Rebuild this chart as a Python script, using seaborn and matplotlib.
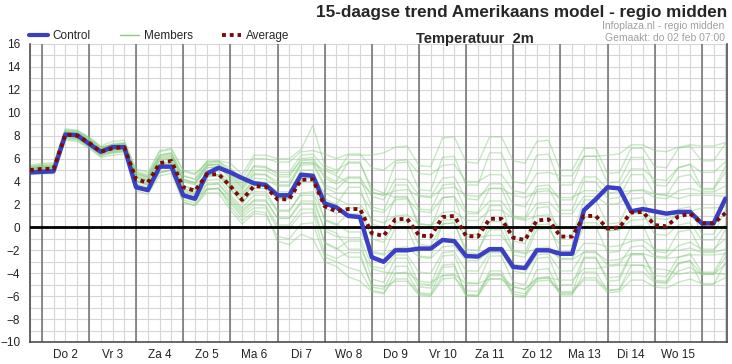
import numpy as np
import pandas as pd
import matplotlib
matplotlib.use("Agg")
import matplotlib.pyplot as plt
import seaborn as sns
from matplotlib.lines import Line2D

# ----------------------------
# Data (6-hourly steps, from Wed 1 Feb 18:00)
# ----------------------------
times = pd.date_range("2023-02-01 18:00", periods=60, freq="6h")

control = [4.8, 4.85, 4.9, 8.1, 8.05, 7.3, 6.6, 7.0, 7.0, 3.5, 3.25, 5.3, 5.3, 2.8, 2.5,
           4.7, 5.2, 4.8, 4.3, 3.85, 3.7, 2.8, 2.8, 4.6, 4.5, 2.1, 1.75, 1.0, 0.9, -2.6,
           -3.0, -2.0, -2.0, -1.85, -1.85, -1.1, -1.2, -2.5, -2.55, -1.9, -1.9, -3.45, -3.55, -2.0, -2.0,
           -2.3, -2.3, 1.5, 2.45, 3.5, 3.4, 1.4, 1.6, 1.4, 1.2, 1.35, 1.35, 0.35, 0.35, 2.5]

average = [5.0, 5.1, 5.1, 8.1, 8.0, 7.4, 6.6, 6.9, 7.0, 4.2, 3.9, 5.6, 5.8, 3.5, 3.2,
           4.6, 4.65, 3.6, 2.4, 3.6, 3.55, 2.45, 2.45, 4.15, 4.2, 1.85, 1.4, 1.6, 1.6, -0.5,
           -0.75, 0.7, 0.75, -0.7, -0.8, 0.9, 1.0, -0.75, -0.8, 0.75, 0.75, -0.9, -1.1, 0.6, 0.7,
           -0.8, -0.8, 1.0, 1.0, -0.1, 0.0, 1.3, 1.35, 0.2, 0.1, 0.95, 1.2, 0.35, 0.35, 1.25]

m01 = [5.2, 5.3, 5.3, 8.4, 8.3, 7.7, 6.9, 7.3, 7.4, 4.8, 4.5, 6.3, 6.5, 4.5, 4.2, 5.8, 5.8, 4.9, 3.7, 5.3,
       5.2, 4.8, 4.8, 6.3, 6.4, 5.2, 4.7, 6.3, 6.3, 6.3, 6.5, 7.0, 7.1, 5.4, 5.3, 7.8, 7.9, 5.7, 5.6, 7.9,
       7.9, 5.8, 5.6, 7.5, 7.6, 5.0, 5.0, 6.9, 6.9, 4.7, 4.8, 6.9, 6.9, 5.3, 5.2, 6.9, 7.1, 5.8, 5.8, 7.3]
m02 = [5.4, 5.6, 5.6, 8.6, 8.5, 7.9, 7.1, 7.5, 7.6, 5.1, 4.8, 6.7, 6.9, 5.0, 4.7, 5.6, 5.7, 5.2, 4.2, 6.0,
       6.0, 5.7, 5.7, 6.6, 6.7, 6.4, 6.0, 6.4, 6.4, 5.2, 5.0, 5.8, 5.9, 4.7, 4.6, 5.4, 5.5, 4.0, 4.0, 4.6,
       4.6, 3.2, 3.0, 4.7, 4.8, 4.5, 4.5, 6.2, 6.2, 6.3, 6.4, 7.2, 7.2, 6.7, 6.6, 7.0, 7.2, 7.1, 7.1, 7.4]
m03 = [4.9, 5.0, 5.0, 8.0, 7.9, 7.3, 6.5, 6.9, 7.0, 4.5, 4.2, 6.0, 6.2, 4.2, 3.9, 5.5, 5.5, 4.7, 3.5, 5.0,
       5.0, 4.4, 4.4, 6.0, 6.1, 4.5, 4.0, 5.7, 5.7, 3.1, 2.8, 5.6, 5.7, 3.3, 3.2, 6.1, 6.2, 3.7, 3.7, 6.5,
       6.5, 4.0, 3.8, 6.3, 6.4, 3.7, 3.7, 6.2, 6.2, 3.9, 4.0, 6.1, 6.1, 3.7, 3.6, 5.2, 5.5, 3.4, 3.4, 5.3]
m04 = [5.1, 5.2, 5.2, 8.2, 8.1, 7.5, 6.7, 7.1, 7.2, 4.7, 4.4, 6.3, 6.5, 4.5, 4.2, 5.4, 5.5, 4.9, 3.9, 5.4,
       5.3, 4.6, 4.6, 5.8, 5.9, 4.3, 3.8, 4.4, 4.4, 2.7, 2.4, 4.2, 4.2, 2.8, 2.7, 4.3, 4.4, 2.5, 2.4, 3.8,
       3.8, 2.0, 1.8, 3.6, 3.7, 2.4, 2.4, 4.4, 4.4, 3.4, 3.5, 5.1, 5.1, 4.2, 4.1, 5.2, 5.5, 4.8, 4.8, 5.7]
m05 = [5.0, 5.1, 5.1, 8.1, 8.0, 7.4, 6.6, 7.0, 7.1, 4.4, 4.1, 5.9, 6.1, 4.0, 3.7, 5.2, 5.3, 4.4, 3.2, 4.6,
       4.6, 4.0, 4.0, 5.6, 5.6, 5.0, 4.5, 3.9, 3.9, 3.0, 2.8, 3.2, 3.3, 2.7, 2.6, 3.4, 3.5, 2.8, 2.7, 3.4,
       3.4, 2.8, 2.6, 3.1, 3.2, 2.6, 2.6, 3.2, 3.2, 3.0, 3.1, 3.2, 3.3, 2.9, 2.8, 2.5, 2.8, 2.8, 2.8, 2.7]
m06 = [4.8, 4.9, 4.9, 7.8, 7.7, 7.1, 6.3, 6.7, 6.8, 4.0, 3.7, 5.5, 5.7, 3.6, 3.3, 4.8, 4.9, 4.0, 2.8, 4.3,
       4.2, 3.6, 3.6, 5.6, 5.7, 3.7, 3.3, 4.3, 4.3, 1.8, 1.5, 3.7, 3.7, 1.6, 1.5, 3.7, 3.8, 1.4, 1.3, 3.4,
       3.4, 1.0, 0.8, 3.3, 3.4, 1.5, 1.5, 4.0, 4.0, 2.5, 2.6, 4.6, 4.6, 2.9, 2.8, 4.4, 4.6, 3.3, 3.3, 4.8]
m07 = [5.3, 5.4, 5.4, 8.5, 8.4, 7.8, 7.0, 7.2, 7.3, 4.6, 4.3, 6.1, 6.3, 4.2, 3.9, 5.4, 5.5, 4.6, 3.4, 4.7,
       4.6, 3.7, 3.7, 5.4, 5.5, 3.5, 3.0, 3.0, 3.0, 1.5, 1.3, 2.4, 2.5, 1.4, 1.3, 2.6, 2.7, 1.2, 1.2, 2.3,
       2.3, 0.9, 0.7, 2.1, 2.2, 1.2, 1.2, 2.7, 2.7, 2.0, 2.1, 3.2, 3.2, 2.6, 2.5, 3.2, 3.4, 3.1, 3.1, 3.6]
m08 = [4.9, 5.0, 5.0, 7.9, 7.8, 7.2, 6.4, 6.6, 6.7, 3.7, 3.4, 5.2, 5.4, 3.2, 2.9, 4.6, 4.6, 3.8, 2.6, 4.0,
       3.9, 3.1, 3.1, 5.0, 5.0, 2.5, 2.0, 3.5, 3.5, 0.3, 0.0, 2.7, 2.7, 0.0, -0.1, 2.6, 2.7, -0.6, -0.6, 1.9,
       1.9, -1.2, -1.4, 1.7, 1.8, -0.8, -0.8, 2.4, 2.4, 0.3, 0.4, 2.5, 2.6, -0.1, -0.2, 1.6, 1.8, -0.6, -0.6, 1.5]
m09 = [5.1, 5.2, 5.2, 8.2, 8.1, 7.5, 6.7, 7.0, 7.1, 4.3, 4.0, 5.6, 5.8, 3.4, 3.1, 4.4, 4.5, 3.3, 2.1, 3.4,
       3.4, 2.5, 2.5, 4.4, 4.5, 3.0, 2.5, 2.0, 2.0, 0.7, 0.4, 1.0, 1.1, 0.3, 0.2, 1.3, 1.4, 0.6, 0.6, 1.5,
       1.5, 0.8, 0.6, 1.0, 1.1, -0.1, -0.1, 0.4, 0.4, -0.3, -0.2, 0.6, 0.7, 0.8, 0.7, 1.1, 1.4, 1.7, 1.7, 1.8]
m10 = [4.7, 4.7, 4.7, 7.7, 7.6, 7.0, 6.2, 6.5, 6.6, 3.8, 3.5, 5.3, 5.5, 3.3, 3.0, 4.5, 4.6, 3.7, 2.5, 3.7,
       3.7, 2.5, 2.5, 4.2, 4.3, 1.7, 1.2, 1.7, 1.7, -1.0, -1.3, 0.4, 0.5, -1.5, -1.6, 0.3, 0.4, -1.9, -2.0, -0.2,
       -0.2, -2.4, -2.6, -0.2, -0.1, -1.6, -1.6, 0.9, 0.9, -0.3, -0.2, 1.2, 1.2, -0.6, -0.7, 0.2, 0.4, -1.1, -1.1, 0.2]
m11 = [5.2, 5.3, 5.3, 8.3, 8.2, 7.6, 6.8, 7.2, 7.3, 4.7, 4.4, 6.2, 6.4, 4.1, 3.8, 5.2, 5.3, 4.2, 3.0, 4.0,
       3.9, 2.6, 2.6, 4.0, 4.0, 0.6, 0.2, 1.2, 1.2, -2.1, -2.3, 0.0, 0.0, -2.5, -2.6, 0.3, 0.4, -2.2, -2.3, 0.5,
       0.5, -2.0, -2.2, 0.2, 0.3, -2.4, -2.4, 0.1, 0.1, -2.2, -2.1, 0.1, 0.2, -2.1, -2.2, -0.4, -0.2, -2.1, -2.1, -0.2]
m12 = [5.0, 5.0, 5.0, 8.0, 7.9, 7.3, 6.5, 6.8, 6.9, 4.1, 3.8, 5.4, 5.6, 3.1, 2.8, 4.1, 4.2, 2.9, 1.7, 2.8,
       2.8, 1.4, 1.4, 3.0, 3.1, 0.7, 0.3, -0.4, -0.4, -2.2, -2.4, -1.8, -1.7, -2.6, -2.7, -1.7, -1.6, -2.9, -2.9, -2.1,
       -2.1, -3.2, -3.4, -2.1, -2.0, -2.7, -2.7, -1.4, -1.4, -1.7, -1.6, -1.2, -1.1, -1.9, -2.0, -2.0, -1.8, -2.2, -2.2, -1.9]
m13 = [5.3, 5.5, 5.5, 8.5, 8.4, 7.8, 7.0, 7.2, 7.3, 4.4, 4.1, 5.8, 6.0, 3.6, 3.3, 4.6, 4.6, 3.4, 2.2, 3.1,
       3.1, 1.5, 1.5, 2.8, 2.8, -0.3, -0.8, -0.9, -0.9, -3.4, -3.6, -2.4, -2.4, -3.9, -4.0, -2.2, -2.1, -3.8, -3.8, -2.2,
       -2.2, -3.8, -4.0, -2.4, -2.3, -3.8, -3.8, -2.1, -2.1, -3.3, -3.2, -1.7, -1.6, -2.5, -2.6, -1.6, -1.3, -1.9, -1.9, -1.0]
m14 = [4.8, 4.8, 4.8, 7.8, 7.7, 7.1, 6.3, 6.5, 6.6, 3.5, 3.2, 4.8, 5.0, 2.6, 2.3, 3.7, 3.8, 2.7, 1.5, 2.4,
       2.4, 0.8, 0.8, 2.1, 2.1, -1.4, -1.9, -1.2, -1.2, -4.5, -4.8, -2.7, -2.7, -4.9, -5.0, -2.5, -2.4, -4.8, -4.9, -2.5,
       -2.5, -4.8, -5.0, -2.7, -2.6, -5.0, -5.0, -2.6, -2.6, -4.7, -4.6, -2.4, -2.4, -4.2, -4.3, -2.6, -2.3, -3.9, -3.9, -2.2]
m15 = [5.1, 5.2, 5.2, 8.2, 8.1, 7.5, 6.7, 6.9, 7.0, 4.0, 3.7, 5.2, 5.4, 2.9, 2.6, 3.8, 3.8, 2.5, 1.3, 2.3,
       2.3, 0.8, 0.8, 2.3, 2.3, -0.1, -0.5, -1.9, -1.9, -3.6, -3.9, -4.0, -3.9, -4.7, -4.8, -4.2, -4.1, -4.9, -4.9, -4.5,
       -4.5, -5.2, -5.4, -4.5, -4.4, -4.6, -4.6, -3.6, -3.6, -3.4, -3.3, -3.3, -3.3, -3.6, -3.7, -4.1, -3.9, -4.0, -4.0, -4.1]
m16 = [4.9, 4.9, 4.9, 7.9, 7.8, 7.2, 6.4, 6.6, 6.7, 3.6, 3.3, 4.8, 5.0, 2.4, 2.1, 3.3, 3.4, 2.1, 0.9, 1.7,
       1.7, -0.1, -0.1, 1.2, 1.3, -2.3, -2.7, -2.2, -2.2, -5.2, -5.4, -3.4, -3.4, -5.2, -5.3, -3.3, -3.2, -5.9, -5.9, -4.1,
       -4.1, -6.0, -6.1, -4.5, -4.4, -5.9, -5.9, -3.9, -3.9, -5.5, -5.4, -3.3, -3.3, -4.7, -4.8, -3.2, -2.9, -4.1, -4.1, -2.6]
m17 = [4.6, 4.7, 4.7, 7.6, 7.5, 6.9, 6.1, 6.3, 6.4, 3.2, 2.9, 4.5, 4.7, 2.2, 1.9, 3.3, 3.4, 2.3, 1.1, 2.0,
       1.9, 0.2, 0.2, 1.6, 1.6, -1.3, -1.8, -2.6, -2.6, -5.0, -5.2, -4.7, -4.7, -5.9, -6.0, -4.5, -4.4, -5.5, -5.6, -4.2,
       -4.2, -5.2, -5.4, -4.4, -4.3, -5.7, -5.7, -4.6, -4.6, -5.7, -5.6, -4.6, -4.6, -5.2, -5.3, -4.8, -4.5, -4.9, -4.9, -4.4]
m18 = [5.2, 5.4, 5.4, 8.4, 8.3, 7.7, 6.9, 7.0, 7.1, 4.1, 3.8, 5.2, 5.4, 2.7, 2.4, 3.4, 3.4, 1.8, 0.6, 1.4,
       1.3, -1.2, -1.5, -0.6, -1.0, -3.0, -3.4, -4.3, -4.7, -5.6, -5.8, -4.0, -4.0, -5.7, -5.8, -3.5, -3.4, -5.9, -6.0, -3.8,
       -3.8, -5.8, -6.0, -3.7, -3.6, -5.8, -5.8, -2.7, -2.7, -4.4, -4.3, -2.3, -2.3, -4.6, -4.7, -3.1, -2.9, -5.0, -5.0, -3.1]
m19 = [5.0, 5.1, 5.1, 8.1, 8.0, 7.4, 6.6, 6.7, 6.8, 3.7, 3.4, 4.8, 5.0, 2.2, 1.9, 3.0, 3.0, 1.5, 0.3, 1.2,
       1.1, -0.8, -1.0, 0.3, 0.4, -2.6, -3.0, -3.5, -3.8, -5.5, -5.7, -4.5, -4.5, -5.8, -5.9, -4.2, -4.2, -6.0, -6.0, -4.5,
       -4.5, -5.6, -5.8, -4.7, -4.6, -5.6, -5.6, -4.4, -4.4, -5.5, -5.4, -3.9, -3.9, -4.8, -4.9, -3.8, -3.5, -4.1, -4.1, -3.2]
m20 = [5.1, 5.3, 5.3, 8.3, 8.2, 7.6, 6.8, 7.2, 7.3, 4.9, 4.6, 6.6, 6.8, 4.9, 4.6, 5.7, 5.8, 5.6, 4.6, 6.3,
       6.3, 6.0, 6.0, 6.8, 8.9, 5.4, 5.0, 5.6, 5.6, 3.4, 3.0, 2.6, 2.6, 0.3, 0.2, 0.6, 0.7, -0.8, -0.9, -0.7,
       -0.7, -2.1, -2.3, -1.8, -1.7, -2.8, -2.8, -2.2, -2.2, -2.9, -2.8, -2.3, -2.3, -2.6, -2.7, -2.6, -2.4, -2.4, -2.4, -2.3]

members = [m01, m02, m03, m04, m05, m06, m07, m08, m09, m10,
           m11, m12, m13, m14, m15, m16, m17, m18, m19, m20]

day_labels = ["Do 2", "Vr 3", "Za 4", "Zo 5", "Ma 6", "Di 7", "Wo 8",
              "Do 9", "Vr 10", "Za 11", "Zo 12", "Ma 13", "Di 14", "Wo 15"]
day_noons = pd.date_range("2023-02-02 12:00", periods=len(day_labels), freq="D")
day_starts = pd.date_range("2023-02-02", periods=15, freq="D")

# long table for seaborn
df = pd.DataFrame({
    "time": np.tile(times.values, len(members)),
    "temp": np.concatenate(members),
    "member": np.repeat(np.arange(len(members)), len(times)),
})

# ----------------------------
# Plot
# ----------------------------
sns.set_theme(style="white")
plt.rcParams["font.family"] = ["Liberation Sans", "DejaVu Sans"]

col_control = "#3b3fc4"
col_member = "#86cc7e"
col_avg = "#7a0c0c"

fig = plt.figure(figsize=(7.32, 3.64), dpi=100)
ax = fig.add_axes([30 / 732, 22 / 364, 697 / 732, 298 / 364])

sns.lineplot(data=df, x="time", y="temp", units="member", estimator=None,
             color=col_member, alpha=0.45, lw=1, ax=ax, zorder=2)
ax.axhline(0, color="black", lw=2, zorder=3)
sns.lineplot(x=times, y=control, color=col_control, lw=3.2, ax=ax, zorder=4)
sns.lineplot(x=times, y=average, color=col_avg, lw=2.8, ax=ax, zorder=5)
ax.lines[-1].set_linestyle((0, (1, 1)))

for d in day_starts:
    ax.axvline(d, color="#6f6f6f", lw=1.1, zorder=1)

ax.set_xlim(pd.Timestamp("2023-02-01 18:00"), pd.Timestamp("2023-02-16 12:50"))
ax.set_ylim(-10, 16)

# 6-hourly tick marks, day names in between
ax.xaxis.remove_overlapping_locs = False
ax.set_xticks(pd.date_range("2023-02-01 18:00", "2023-02-16 12:00", freq="6h"))
ax.set_xticklabels([])
ax.set_xticks(day_noons, minor=True)
ax.set_xticklabels(day_labels, minor=True)
ax.set_yticks(range(-10, 17, 2))
ax.set_yticks(range(-10, 17), minor=True)

ax.grid(axis="x", which="major", color="#d6d6d6", lw=0.8, zorder=0)
ax.grid(axis="y", which="both", color="#d6d6d6", lw=0.8, zorder=0)

ax.tick_params(axis="x", which="major", direction="inout", length=7, width=1, color="#404040")
ax.tick_params(axis="x", which="minor", length=0, labelsize=8.5, pad=5, labelcolor="#222222")
ax.tick_params(axis="y", which="major", direction="out", length=5, width=1, color="#404040",
               labelsize=8.5, pad=2, labelcolor="#222222")
ax.tick_params(axis="y", which="minor", length=0)

for side in ["left", "bottom", "right"]:
    ax.spines[side].set_visible(True)
    ax.spines[side].set_color("#404040")
    ax.spines[side].set_linewidth(1.1)
ax.spines["top"].set_visible(False)
ax.set_xlabel("")
ax.set_ylabel("")

# legend
handles = [Line2D([], [], color=col_control, lw=3),
           Line2D([], [], color=col_member, lw=1),
           Line2D([], [], color=col_avg, lw=2.8, ls=(0, (1, 1)))]
fig.legend(handles, ["Control", "Members", "Average"], loc="center left",
           bbox_to_anchor=(29 / 732, 1 - 36 / 364), ncol=3, frameon=False, fontsize=8.5,
           handlelength=1.6, columnspacing=2.5, handletextpad=0.4, borderpad=0, borderaxespad=0)

# titles
fig.text(0.993, 1 - 12 / 364, "15-daagse trend Amerikaans model - regio midden",
         ha="right", va="center", fontsize=12.3, fontweight="bold")
fig.text(0.99, 1 - 26 / 364, "Infoplaza.nl - regio midden", ha="right", va="center",
         fontsize=7.5, color="#a0a0a0")
fig.text(0.99, 1 - 38 / 364, "Gemaakt: do 02 feb 07:00", ha="right", va="center",
         fontsize=7.5, color="#a0a0a0")
fig.text(475 / 732, 1 - 39 / 364, "Temperatuur  2m", ha="center", va="center",
         fontsize=10.5, fontweight="bold")

fig.savefig("out.png", dpi=100)
